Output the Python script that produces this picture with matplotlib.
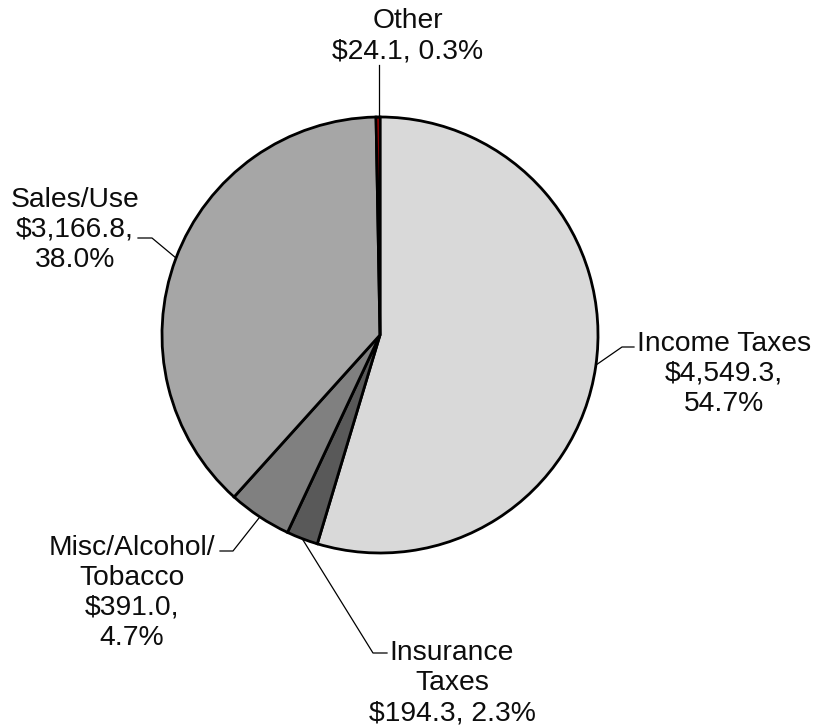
import matplotlib
matplotlib.use("Agg")
import matplotlib.pyplot as plt

categories = ["Income Taxes", "Insurance Taxes", "Misc/Alcohol/Tobacco", "Sales/Use", "Other"]
values = [4549.3, 194.3, 391.0, 3166.8, 24.1]
percents = ["54.7%", "2.3%", "4.7%", "38.0%", "0.3%"]
colors = ["#d9d9d9", "#595959", "#808080", "#a6a6a6", "#e00000"]

label_lines = [
    ["Income Taxes", "$4,549.3,", "54.7%"],
    ["Insurance", "Taxes", "$194.3, 2.3%"],
    ["Misc/Alcohol/", "Tobacco", "$391.0,", "4.7%"],
    ["Sales/Use", "$3,166.8,", "38.0%"],
    ["Other", "$24.1, 0.3%"],
]

W, H = 816, 727
plt.rcParams['font.family'] = ['Liberation Sans', 'DejaVu Sans']
fig = plt.figure(figsize=(W / 100, H / 100), dpi=100)
ax = fig.add_axes([0, 0, 1, 1])
ax.set_xlim(0, W)
ax.set_ylim(0, H)
ax.set_aspect('equal')
ax.axis('off')

def P(x, y):
    return (x, H - y)

cx, cy = P(380, 335)
ax.pie(values, colors=colors, startangle=90, counterclock=False,
       center=(cx, cy), radius=218,
       wedgeprops=dict(edgecolor='black', linewidth=2.0))
ax.set_xlim(0, W)
ax.set_ylim(0, H)

fs = 20.3
step = 30
# text block center x and first-line center y (pixels from top-left)
label_pos = [(724, 341), (452, 650), (132, 545), (75, 197), (408, 18)]
leaders = [
    [(596, 365), (622, 347), (634, 347)],
    [(303, 540), (373, 653), (387, 653)],
    [(259, 518), (233, 551), (220, 551)],
    [(176, 258), (152, 238), (138, 238)],
    [(378.5, 118), (378.5, 65)],
]
for lines, (tx, ty), pts in zip(label_lines, label_pos, leaders):
    for i, line in enumerate(lines):
        ax.text(*P(tx, ty + i * step), line, ha='center', va='center_baseline',
                fontsize=fs, color='#0d0d0d')
    xs = [p[0] for p in pts]
    ys = [H - p[1] for p in pts]
    ax.plot(xs, ys, color='black', lw=0.9)

fig.savefig("out.png", dpi=100)
